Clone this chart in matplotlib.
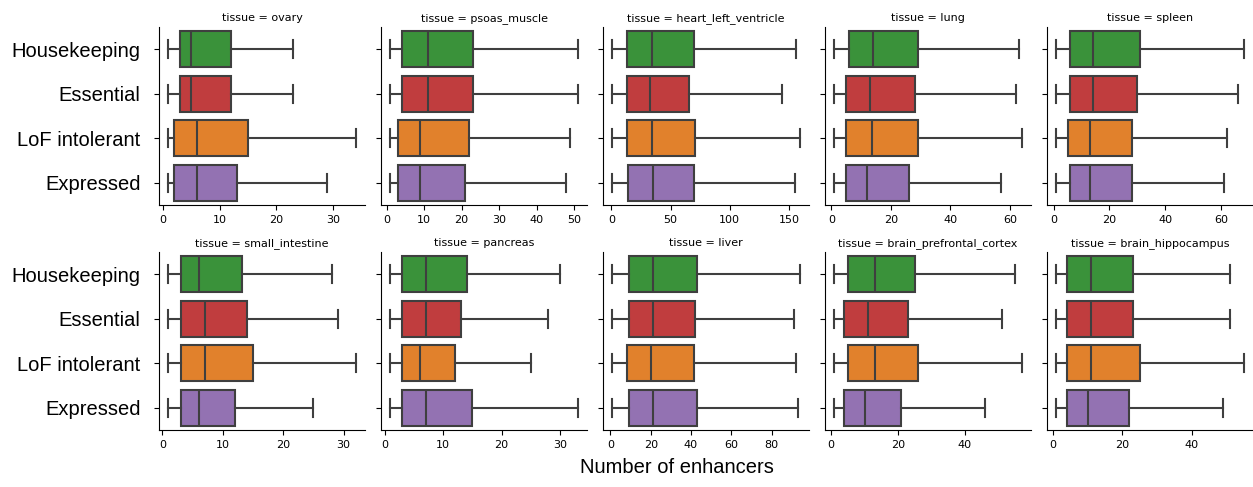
import numpy as np
import matplotlib
matplotlib.use("Agg")
import matplotlib.pyplot as plt
from matplotlib.ticker import MultipleLocator

groups = ["Housekeeping", "Essential", "LoF intolerant", "Expressed"]
colors = ["#3a923a", "#c03d3e", "#e1812c", "#9372b2"]

tissues = ["ovary", "psoas_muscle", "heart_left_ventricle", "lung", "spleen",
           "small_intestine", "pancreas", "liver", "brain_prefrontal_cortex",
           "brain_hippocampus"]

# per tissue, per group: lower whisker, Q1, median, Q3, upper whisker
ovary = [[1, 3, 5, 12, 23], [1, 3, 5, 12, 23], [1, 2, 6, 15, 34], [1, 2, 6, 13, 29]]
psoas_muscle = [[1, 4, 11, 23, 51], [1, 4, 11, 23, 51], [1, 3, 9, 22, 49], [1, 3, 9, 21, 48]]
heart_left_ventricle = [[1, 13, 34, 70, 156], [1, 13, 33, 66, 144],
                        [1, 13, 34, 71, 159], [1, 14, 35, 70, 155]]
lung = [[1, 6, 14, 29, 63], [1, 5, 13, 28, 62], [1, 5, 13.5, 29, 64], [1, 5, 12, 26, 57]]
spleen = [[1, 6, 14, 31, 68], [1, 6, 14, 30, 66], [1, 5, 13, 28, 62], [1, 6, 13, 28, 61]]
small_intestine = [[1, 3, 6, 13.25, 28], [1, 3, 7, 14, 29], [1, 3, 7, 15, 32], [1, 3, 6, 12, 25]]
pancreas = [[1, 3, 7, 14, 30], [1, 3, 7, 13, 28], [1, 3, 6, 12, 25], [1, 3, 7, 15, 33]]
liver = [[1, 9, 21, 43, 94], [1, 9, 21, 42, 91], [1, 8, 20, 41.75, 92], [1, 9, 21, 43, 93]]
brain_prefrontal_cortex = [[1, 5, 13, 25, 55], [1, 4, 11, 23, 51],
                           [1, 5, 13, 26, 57], [1, 4, 10, 21, 46]]
brain_hippocampus = [[1, 4, 11, 23, 51], [1, 4, 11, 23, 51], [1, 4, 11, 25, 55], [1, 4, 10, 22, 49]]

data = [ovary, psoas_muscle, heart_left_ventricle, lung, spleen,
        small_intestine, pancreas, liver, brain_prefrontal_cortex, brain_hippocampus]

line_col = "#3f3f3f"

fig, axes = plt.subplots(2, 5, figsize=(12.53, 4.87), dpi=100, sharey=True)
fig.subplots_adjust(left=0.127, right=1.0, top=0.9446, bottom=0.117,
                    wspace=0.0777, hspace=0.264)

for ax, tissue, vals in zip(axes.flat, tissues, data):
    stats = []
    for g, v in zip(groups, vals):
        stats.append(dict(label=g, whislo=v[0], q1=v[1], med=v[2], q3=v[3],
                          whishi=v[4], fliers=[]))
    bp = ax.bxp(stats, positions=range(len(groups)), widths=0.8,
                orientation="horizontal", patch_artist=True, showfliers=False,
                boxprops=dict(edgecolor=line_col, linewidth=1.5),
                medianprops=dict(color=line_col, linewidth=1.5),
                whiskerprops=dict(color=line_col, linewidth=1.5),
                capprops=dict(color=line_col, linewidth=1.5))
    for patch, c in zip(bp["boxes"], colors):
        patch.set_facecolor(c)
    ax.set_ylim(3.5, -0.5)
    ax.set_title("tissue = " + tissue, fontsize=8, pad=4)
    ax.spines["top"].set_visible(False)
    ax.spines["right"].set_visible(False)
    ax.tick_params(axis="x", labelsize=8)
    ax.tick_params(axis="y", labelsize=14.5, pad=10)
    ax.autoscale(axis="x")
    ax.margins(x=0.05)

axes[1, 4].xaxis.set_major_locator(MultipleLocator(20))

for ax in axes[:, 0]:
    ax.set_yticks(range(len(groups)))
    ax.set_yticklabels(groups, fontfamily="Liberation Sans", fontsize=14.5)

fig.text(0.54, 0.02, "Number of enhancers", ha="center", va="bottom",
         fontsize=14.5, fontfamily="Liberation Sans")

fig.savefig("out.png", dpi=100)
